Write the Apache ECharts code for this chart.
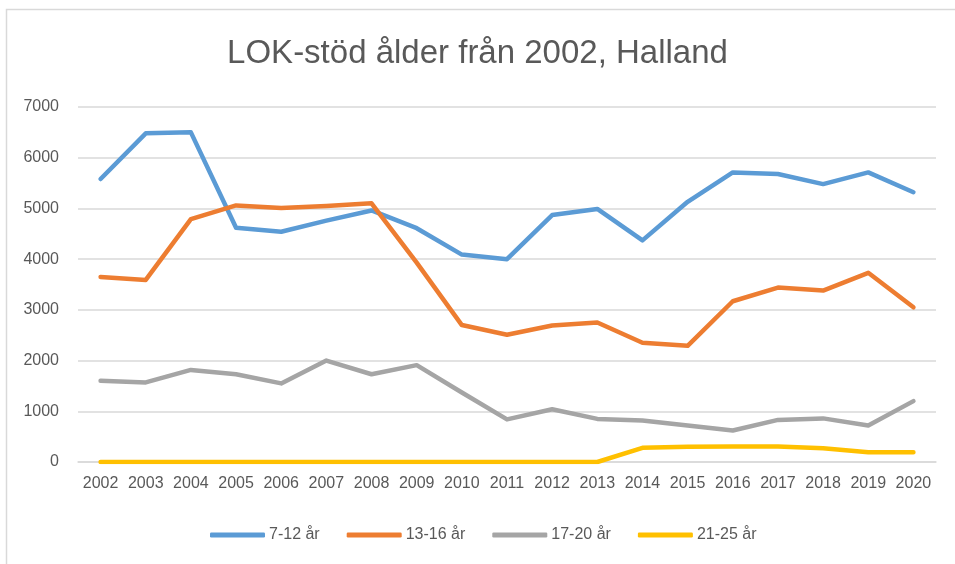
<!DOCTYPE html>
<html>
<head>
<meta charset="utf-8">
<script src="https://cdn.jsdelivr.net/npm/echarts@6/dist/echarts.min.js"></script>
<style>
html,body{margin:0;padding:0;background:#fff;}
#chart{width:955px;height:564px;}
</style>
</head>
<body>
<div id="chart"></div>
<script>
var years = ['2002','2003','2004','2005','2006','2007','2008','2009','2010','2011','2012','2013','2014','2015','2016','2017','2018','2019','2020'];
var age7to12  = [5580, 6480, 6500, 4620, 4540, 4760, 4960, 4610, 4090, 4000, 4870, 4990, 4370, 5130, 5710, 5680, 5480, 5710, 5320];
var age13to16 = [3650, 3590, 4790, 5060, 5010, 5050, 5100, 3930, 2700, 2510, 2690, 2750, 2350, 2290, 3170, 3440, 3380, 3730, 3050];
var age17to20 = [1600, 1570, 1815, 1730, 1550, 2000, 1730, 1910, 1370, 840, 1040, 850, 820, 720, 620, 830, 860, 720, 1200];
var age21to25 = [0, 0, 0, 0, 0, 0, 0, 0, 0, 0, 0, 0, 280, 300, 305, 305, 270, 190, 190];
var seriesNames = ['7-12 år', '13-16 år', '17-20 år', '21-25 år'];
var yTicks = {min: 0, max: 7000, interval: 1000};

var colors = ['#5B9BD5', '#ED7D31', '#A5A5A5', '#FFC000'];
var fontFam = '"Liberation Sans", Arial, sans-serif';
var txt = '#595959';

function mk(name, data, i) {
  return {
    name: name, type: 'line', data: data,
    showSymbol: false, symbol: 'none',
    lineStyle: {width: 4.5, color: colors[i], cap: 'round', join: 'round'},
    itemStyle: {color: colors[i]},
    emphasis: {disabled: true},
    animation: false
  };
}

var chart = echarts.init(document.getElementById('chart'), null, {renderer: 'canvas'});
chart.setOption({
  animation: false,
  backgroundColor: '#fff',
  title: {
    text: 'LOK-stöd ålder från 2002, Halland',
    left: 'center', top: 32,
    textStyle: {fontFamily: fontFam, fontSize: 33, fontWeight: 'normal', color: txt}
  },
  grid: {left: 78, right: 19, top: 107, bottom: 102, containLabel: false},
  xAxis: {
    type: 'category', data: years, boundaryGap: true,
    axisLine: {show: true, lineStyle: {color: '#D9D9D9', width: 1.5}},
    axisTick: {show: false},
    axisLabel: {color: txt, fontFamily: fontFam, fontSize: 16, margin: 14, interval: 0}
  },
  yAxis: {
    type: 'value', min: yTicks.min, max: yTicks.max, interval: yTicks.interval,
    axisLine: {show: false}, axisTick: {show: false},
    splitLine: {lineStyle: {color: '#D9D9D9', width: 1.5}},
    axisLabel: {color: txt, fontFamily: fontFam, fontSize: 16, margin: 19,
      formatter: function (v) { return String(v); }}
  },
  legend: {
    data: seriesNames, left: 205, top: 522,
    icon: 'roundRect', itemWidth: 55, itemHeight: 5, itemGap: 27,
    textStyle: {color: txt, fontFamily: fontFam, fontSize: 16, padding: [0, 0, 0, -1]},
    selectedMode: false
  },
  graphic: [{
    type: 'rect', left: 4, top: 7, silent: true,
    shape: {width: 960, height: 570},
    style: {fill: 'none', stroke: '#D9D9D9', lineWidth: 1.5}
  }],
  series: [
    mk(seriesNames[0], age7to12, 0),
    mk(seriesNames[1], age13to16, 1),
    mk(seriesNames[2], age17to20, 2),
    mk(seriesNames[3], age21to25, 3)
  ]
});
</script>
</body>
</html>
